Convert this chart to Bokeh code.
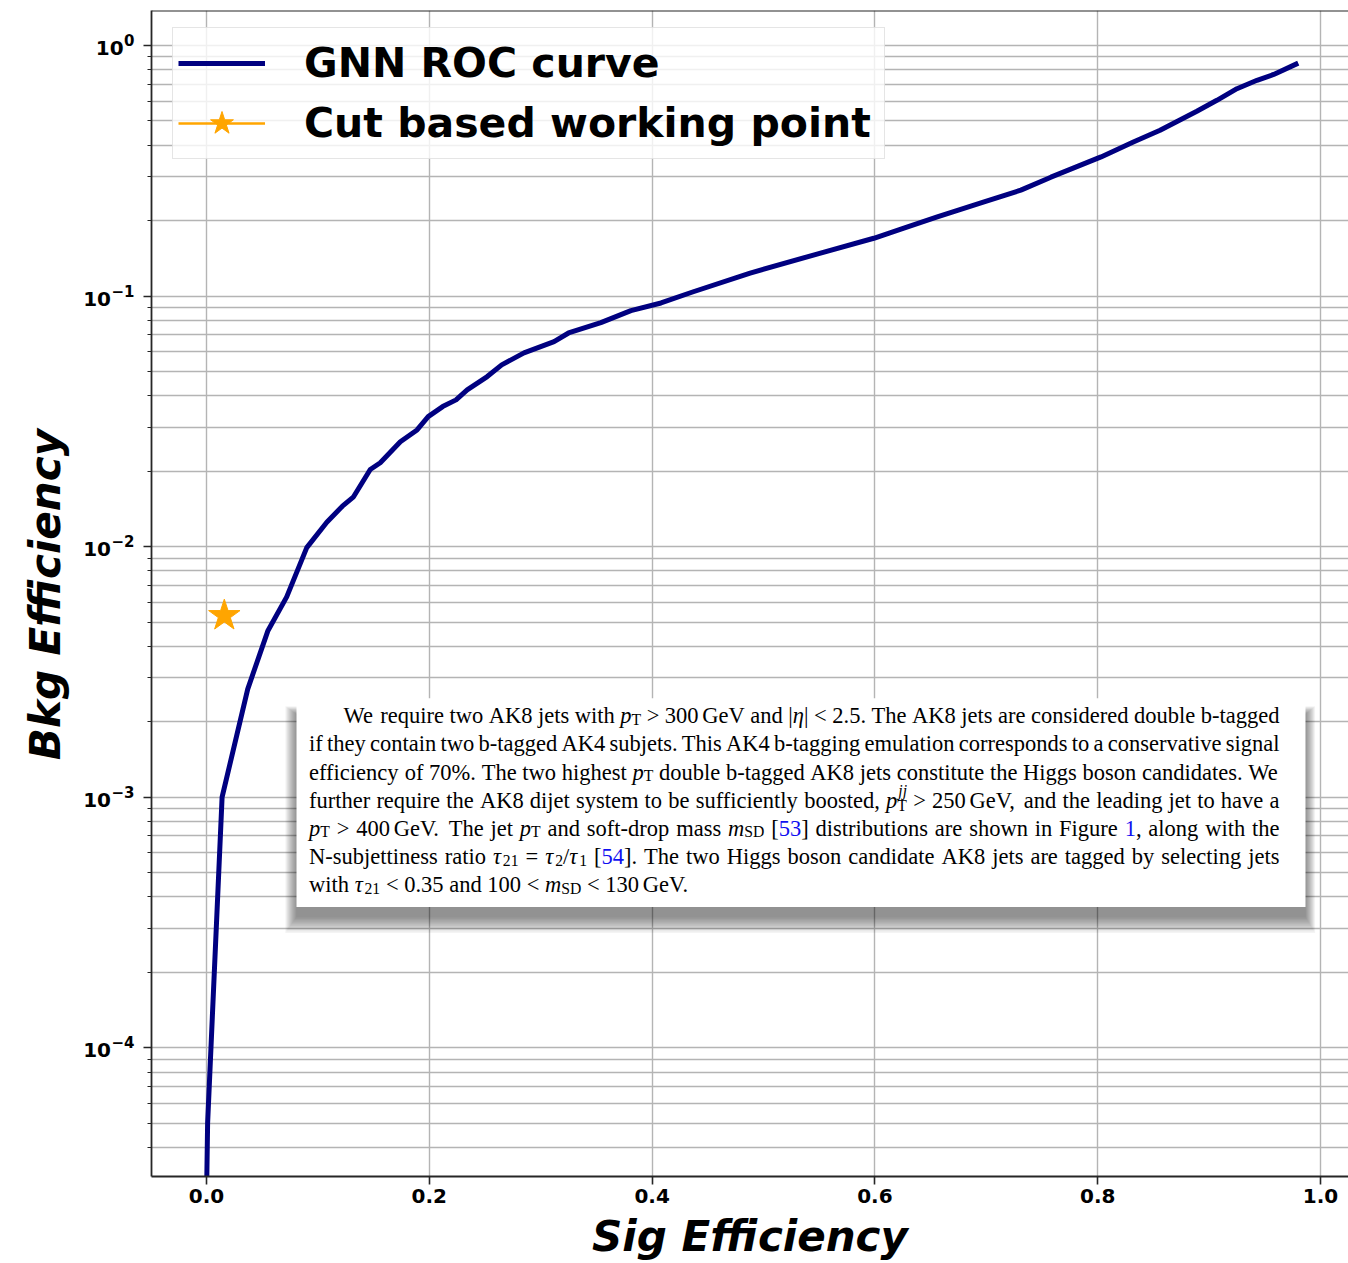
import math
import re

from bokeh.core.properties import value
from bokeh.embed import file_html
from bokeh.layouts import row
from bokeh.models import (ColumnDataSource, CustomJSTickFormatter, FixedTicker,
                          Legend, LegendItem, Range1d, Span)
from bokeh.plotting import figure
from bokeh.resources import INLINE

# ---------------------------------------------------------------- data
sig_eff = [0.000, 0.001, 0.014, 0.037, 0.055, 0.072, 0.090, 0.108, 0.122, 0.132,
           0.147, 0.156, 0.174, 0.189, 0.199, 0.212, 0.224, 0.234, 0.252, 0.265,
           0.285, 0.312, 0.325, 0.354, 0.381, 0.408, 0.437, 0.488, 0.548, 0.599,
           0.626, 0.656, 0.698, 0.731, 0.758, 0.803, 0.832, 0.856, 0.889, 0.907,
           0.925, 0.943, 0.958, 0.980]
bkg_eff = [2.5e-5, 5.0e-5, 1.0e-3, 2.7e-3, 4.6e-3, 6.3e-3, 9.9e-3, 1.25e-2, 1.45e-2, 1.58e-2,
           2.03e-2, 2.16e-2, 2.62e-2, 2.92e-2, 3.30e-2, 3.62e-2, 3.85e-2, 4.22e-2, 4.77e-2, 5.31e-2,
           5.93e-2, 6.58e-2, 7.12e-2, 7.83e-2, 8.74e-2, 9.38e-2, 0.104, 0.1235, 0.147, 0.170,
           0.1866, 0.207, 0.2376, 0.2645, 0.298, 0.359, 0.412, 0.4585, 0.546, 0.604,
           0.672, 0.726, 0.766, 0.850]

wp_sig = [0.016]
wp_bkg = [0.0053]

x_ticks = [0.0, 0.2, 0.4, 0.6, 0.8, 1.0]
y_decades = [-4, -3, -2, -1, 0]

curve_label = "GNN ROC curve"
wp_label = "Cut based working point"
x_title = "Sig Efficiency"
y_title = "Bkg Efficiency"

# paragraph pasted over the plot; *x* italic, _{..} subscript, ^{..} superscript,
# #..# reference link, ~ thin space
note_lines = [
    "We require two AK8 jets with *p*_{T} > 300~GeV and |*η*| < 2.5. The AK8 jets are considered double b-tagged",
    "if they contain two b-tagged AK4 subjets. This AK4 b-tagging emulation corresponds to a conservative signal",
    "efficiency of 70%. The two highest *p*_{T} double b-tagged AK8 jets constitute the Higgs boson candidates. We",
    "further require the AK8 dijet system to be sufficiently boosted, *p*^{jj}_{T} > 250~GeV, and the leading jet to have a",
    "*p*_{T} > 400~GeV. The jet *p*_{T} and soft-drop mass *m*_{SD} [#53#] distributions are shown in Figure #1#, along with the",
    "N-subjettiness ratio *τ*_{21} = *τ*_{2}/*τ*_{1} [#54#]. The two Higgs boson candidate AK8 jets are tagged by selecting jets",
    "with *τ*_{21} < 0.35 and 100 < *m*_{SD} < 130~GeV.",
]

# ---------------------------------------------------------------- geometry
W, H = 1348, 1263
SIDE_W = 143                            # strip holding the y tick labels and title
TICK_LEN = 8
FRAME_L, FRAME_T, FRAME_B = SIDE_W + TICK_LEN, 10, 1178
X0_PX, X_PER_UNIT = 206.0, 1114.0      # canvas x of sig = 0, pixels per unit
Y0_PX, Y_PER_DEC = 45.0, 251.0         # canvas y of bkg = 1, pixels per decade

x_range = Range1d((FRAME_L - X0_PX) / X_PER_UNIT, (W - X0_PX) / X_PER_UNIT)
y_range = Range1d(10 ** (-(FRAME_B - Y0_PX) / Y_PER_DEC), 10 ** ((Y0_PX - FRAME_T) / Y_PER_DEC))


def sx(px):
    return (px - X0_PX) / X_PER_UNIT


def sy(py):
    return 10.0 ** (-(py - Y0_PX) / Y_PER_DEC)


p = figure(width=W - SIDE_W, height=H, x_range=x_range, y_range=y_range, y_axis_type="log",
           output_backend="svg", toolbar_location=None,
           min_border_left=TICK_LEN, min_border_top=FRAME_T,
           min_border_bottom=H - FRAME_B, min_border_right=0)
p.outline_line_color = None
p.background_fill_color = "white"
p.border_fill_color = "white"

# ---------------------------------------------------------------- axes & grid
x_ticker = FixedTicker(ticks=x_ticks, minor_ticks=[])
y_ticker = FixedTicker(ticks=[10.0 ** d for d in y_decades],
                       minor_ticks=[m * 10.0 ** d for d in range(-5, 1) for m in range(2, 10)])
p.xaxis.ticker = x_ticker
p.yaxis.ticker = y_ticker
p.xgrid.ticker = x_ticker
p.ygrid.ticker = y_ticker

p.xaxis.formatter = CustomJSTickFormatter(code="return tick.toFixed(1);")
p.yaxis.formatter = CustomJSTickFormatter(code="return '';")

for ax in (p.xaxis[0], p.yaxis[0]):
    ax.axis_line_color = "#262626"
    ax.axis_line_width = 1.8
    ax.major_tick_line_color = "#262626"
    ax.major_tick_line_width = 1.6
    ax.minor_tick_line_color = "#262626"
    ax.minor_tick_line_width = 1.2
    ax.major_tick_out = TICK_LEN
    ax.major_tick_in = 0
    ax.minor_tick_out = 4
    ax.minor_tick_in = 0
    ax.major_label_text_font = "DejaVu Sans"
    ax.major_label_text_font_style = "bold"
    ax.major_label_text_font_size = "20px"
    ax.major_label_text_color = "black"
    ax.axis_label_text_font = "DejaVu Sans"
    ax.axis_label_text_font_style = "bold italic"
    ax.axis_label_text_font_size = "42px"
    ax.axis_label_text_color = "black"

p.xaxis.axis_label = x_title
p.xaxis.major_label_standoff = 4
p.xaxis.axis_label_standoff = 6
p.yaxis.major_label_standoff = 0

for g in (p.xgrid[0], p.ygrid[0]):
    g.grid_line_color = "#b4b4b4"
    g.grid_line_width = 1.4
p.ygrid.minor_grid_line_color = "#b4b4b4"
p.ygrid.minor_grid_line_width = 1.4

p.add_layout(Span(location=y_range.end, dimension="width",
                  line_color="#262626", line_width=2))

# ---------------------------------------------------------------- curves
roc = p.line(sig_eff, bkg_eff, line_color="navy", line_width=5, line_join="round")
wp_line = p.line(wp_sig, wp_bkg, line_color="orange", line_width=2.5)
wp_star = p.scatter(wp_sig, wp_bkg, marker="star", size=33,
                    fill_color="orange", line_color="orange")

# ---------------------------------------------------------------- pasted note
BOX_L, BOX_R, BOX_T, BOX_B = 296, 1305, 699, 908
PARA_L, PARA_R, INDENT = 308.5, 1279.0, 34.5
BASE0, LEADING = 716.5, 28.2
FS = 22.5
SCRIPT = 0.7
SUB_DROP, SUB_DROP_STACK, SUP_RISE = 3.5, 5.5, 10.0
THIN, SPACE = 0.167, 0.25
INK, LINK = "#000000", "#1010f0"

ROMAN_W = {' ': 250, '.': 250, ',': 250, '-': 333, '%': 833, '[': 333, ']': 333,
           '/': 278, '|': 200, '<': 564, '>': 564, '=': 564}
ROMAN_W.update({c: 500 for c in "0123456789"})
ROMAN_W.update(zip("ABCDEFGHIJKLMNOPQRSTUVWXYZ",
                   [722, 667, 667, 722, 611, 556, 722, 722, 333, 389, 722, 611, 889,
                    722, 722, 556, 722, 667, 556, 611, 722, 722, 944, 722, 722, 611]))
ROMAN_W.update(zip("abcdefghijklmnopqrstuvwxyz",
                   [444, 500, 444, 500, 444, 333, 500, 500, 278, 278, 500, 278, 778,
                    500, 500, 500, 500, 333, 389, 278, 500, 500, 722, 500, 500, 444]))
ITALIC_W = {'p': 500, 'm': 722, 'j': 278, 'η': 500, 'τ': 440}

TOKEN = re.compile(r"\*([^*]+)\*|_\{([^}]*)\}|\^\{([^}]*)\}|#([^#]+)#|(~)|([^*_^#~]+)")


def text_w(text, italic, size):
    table = ITALIC_W if italic else ROMAN_W
    return sum(table.get(c, ROMAN_W.get(c, 500)) for c in text) / 1000.0 * size


def parse_word(word):
    runs = []
    for m in TOKEN.finditer(word):
        it_, sub, sup, link, thin, plain = m.groups()
        if it_:
            runs.append((it_, "it"))
        elif sub is not None:
            runs.append((sub, "sub"))
        elif sup:
            runs.append((sup, "sup"))
        elif link:
            runs.append((link, "link"))
        elif thin:
            runs.append(("", "thin"))
        else:
            runs.append((plain, "rm"))
    return runs


def word_pieces(runs):
    out, cx, sup_at = [], 0.0, None
    for text, kind in runs:
        if kind == "thin":
            cx += THIN * FS
            continue
        if kind == "sub" and sup_at is not None:
            size = FS * SCRIPT
            out.append((sup_at, SUB_DROP_STACK, text, "normal", size, INK))
            cx = max(cx, sup_at + text_w(text, False, size))
            sup_at = None
            continue
        italic = kind in ("it", "sup")
        size = FS * SCRIPT if kind in ("sub", "sup") else FS
        dy = {"sub": SUB_DROP, "sup": -SUP_RISE}.get(kind, 0.0)
        color = LINK if kind == "link" else INK
        lead = 1.0 if kind == "sup" else 0.0
        out.append((cx + lead, dy, text, "italic" if italic else "normal", size, color))
        if kind == "sup":
            sup_at = cx
        cx += text_w(text, italic, size) + lead
    return out, cx


note = dict(x=[], y=[], txt=[], fstyle=[], fsize=[], tcolor=[])
for i, line in enumerate(note_lines):
    words = [word_pieces(parse_word(w)) for w in line.split(" ")]
    left = PARA_L + (INDENT if i == 0 else 0.0)
    total = sum(w for _, w in words)
    if i < len(note_lines) - 1:
        gap = (PARA_R - left - total) / (len(words) - 1)
    else:
        gap = SPACE * FS
    base = BASE0 + i * LEADING
    cx = left
    for pieces, w in words:
        for dx, dy, text, style, size, color in pieces:
            note["x"].append(sx(cx + dx))
            note["y"].append(sy(base + dy))
            note["txt"].append(text)
            note["fstyle"].append(style)
            note["fsize"].append(f"{size:.1f}px")
            note["tcolor"].append(color)
        cx += w + gap

# soft drop shadow under the note, heavier below than at the sides
shadow = dict(left=[], right=[], top=[], bottom=[])
for k in range(12):
    grow = 16 - 1.4 * k
    shadow["left"].append(sx(BOX_L - 0.7 * grow))
    shadow["right"].append(sx(BOX_R + 0.6 * grow))
    shadow["top"].append(sy(BOX_T + 16 - 0.5 * grow))
    shadow["bottom"].append(sy(BOX_B + 10 + grow))
p.quad(left="left", right="right", top="top", bottom="bottom",
       source=ColumnDataSource(shadow), fill_color="black", fill_alpha=0.045,
       line_color=None)
p.quad(left=[sx(BOX_L)], right=[sx(BOX_R)], top=[sy(BOX_T)], bottom=[sy(BOX_B)],
       fill_color="white", line_color=None)
p.text(x="x", y="y", text="txt", source=ColumnDataSource(note),
       text_font=value("Liberation Serif"), text_font_style="fstyle",
       text_font_size="fsize", text_color="tcolor",
       text_align="left", text_baseline="alphabetic")

# ---------------------------------------------------------------- legend
LEG_PAD, GLYPH_W, ROW_H, ROW_GAP = 5, 87, 60, 0
LEG_H = 2 * ROW_H + ROW_GAP + 2 * LEG_PAD
LEG_TOP = 31
legend = Legend(items=[LegendItem(label=curve_label, renderers=[roc]),
                       LegendItem(label=wp_label, renderers=[wp_line, wp_star])],
                location=(21, FRAME_B - LEG_TOP - LEG_H),
                padding=LEG_PAD, spacing=ROW_GAP,
                glyph_width=GLYPH_W, glyph_height=ROW_H, label_height=ROW_H,
                label_standoff=39, label_width=575,
                label_text_font="DejaVu Sans", label_text_font_style="bold",
                label_text_font_size="41px", label_text_color="black",
                border_line_color="#cccccc", border_line_width=1.5,
                background_fill_color="white", background_fill_alpha=0.8)
p.add_layout(legend)

# ---------------------------------------------------------------- left strip
# y tick labels ("10" with a smaller raised exponent) and the y title
side = figure(width=SIDE_W, height=H, x_range=Range1d(0, SIDE_W), y_range=y_range,
              y_axis_type="log", output_backend="svg", toolbar_location=None,
              min_border_left=0, min_border_right=0,
              min_border_top=FRAME_T, min_border_bottom=H - FRAME_B)
side.xaxis.visible = False
side.yaxis.visible = False
side.grid.visible = False
side.outline_line_color = None
side.background_fill_color = "white"
side.border_fill_color = "white"

LBL_RIGHT = 134.0
SUP_SIZE = 15.0
DJV_BOLD = {'0': 0.696, '1': 0.696, '2': 0.696, '3': 0.696, '4': 0.696, '\u2212': 0.838}
base_lbl = dict(x=[], y=[], txt=[])
exp_lbl = dict(x=[], y=[], txt=[])
for d in y_decades:
    tick_py = Y0_PX - d * Y_PER_DEC
    exp = str(d).replace("-", "\u2212")
    exp_w = sum(DJV_BOLD[c] for c in exp) * SUP_SIZE
    exp_lbl["x"].append(LBL_RIGHT)
    exp_lbl["y"].append(sy(tick_py - 5.5))
    exp_lbl["txt"].append(exp)
    base_lbl["x"].append(LBL_RIGHT - exp_w - 0.5)
    base_lbl["y"].append(sy(tick_py + 2.5))
    base_lbl["txt"].append("10")

side.text(x="x", y="y", text="txt", source=ColumnDataSource(base_lbl),
          text_font=value("DejaVu Sans"), text_font_style="bold", text_font_size="20px",
          text_color="black", text_align="right", text_baseline="alphabetic")
side.text(x="x", y="y", text="txt", source=ColumnDataSource(exp_lbl),
          text_font=value("DejaVu Sans"), text_font_style="bold",
          text_font_size=f"{SUP_SIZE:.0f}px",
          text_color="black", text_align="right", text_baseline="alphabetic")
side.text(x=[45], y=[sy((FRAME_T + FRAME_B) / 2 + 1)], text=[y_title], angle=math.pi / 2,
          text_font=value("DejaVu Sans"), text_font_style="bold italic",
          text_font_size="42px", text_color="black",
          text_align="center", text_baseline="alphabetic")

layout = row(side, p, spacing=0)
open("out.html", "w").write(file_html(layout, INLINE))
